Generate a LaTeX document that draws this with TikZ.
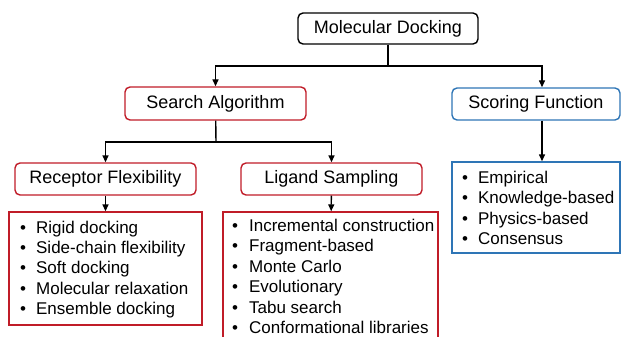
\documentclass[tikz,border=0pt]{standalone}
\usepackage{fontspec}
\setmainfont{Liberation Sans}
\usetikzlibrary{arrows.meta}
\definecolor{boxred}{RGB}{192,28,40}
\definecolor{boxblue}{RGB}{46,117,182}
\begin{document}
\begin{tikzpicture}[x=1pt,y=-1pt,
  head/.style={draw, line width=1.4pt, rounded corners=5pt, inner sep=0pt, font=\fontsize{18}{21}\selectfont},
  listbox/.style={draw, line width=1.4pt, inner sep=0pt},
  listtext/.style={anchor=base west, inner sep=0pt, font=\fontsize{17}{20.5}\selectfont},
  conn/.style={line width=1.4pt},
  arr/.style={line width=1.4pt, -{Triangle[length=7pt,width=6pt]}}]
\useasboundingbox (0,0) rectangle (622,337);
\clip (0,0) rectangle (622,337);
% headings
\node[head, minimum width=180pt, minimum height=31pt] (md) at (388,28.5) {Molecular Docking};
\node[head, draw=boxred, minimum width=181pt, minimum height=33pt] (sa) at (215.5,103.5) {Search Algorithm};
\node[head, draw=boxblue, minimum width=168pt, minimum height=32pt] (sf) at (536,104) {Scoring Function};
\node[head, draw=boxred, minimum width=181pt, minimum height=32pt] (rf) at (105.5,179) {Receptor Flexibility};
\node[head, draw=boxred, minimum width=181pt, minimum height=32pt] (ls) at (331.5,179) {Ligand Sampling};
% list boxes
\node[listbox, draw=boxred, minimum width=193pt, minimum height=113pt] (rfl) at (105.5,268.5) {};
\node[listbox, draw=boxred, minimum width=215pt, minimum height=140pt] (lsl) at (330.5,282) {};
\node[listbox, draw=boxblue, minimum width=168pt, minimum height=91pt] (sfl) at (536,207.5) {};
% list texts
\node[listtext] (rft) at (20,233) {\begin{tabular}[t]{@{}l@{\hspace{10pt}}l@{}}
\textbullet & Rigid docking\\
\textbullet & Side-chain flexibility\\
\textbullet & Soft docking\\
\textbullet & Molecular relaxation\\
\textbullet & Ensemble docking
\end{tabular}};
\node[listtext] (lst) at (232,231.5) {\begin{tabular}[t]{@{}l@{\hspace{11pt}}l@{}}
\textbullet & Incremental construction\\
\textbullet & Fragment-based\\
\textbullet & Monte Carlo\\
\textbullet & Evolutionary\\
\textbullet & Tabu search\\
\textbullet & Conformational libraries
\end{tabular}};
\node[listtext] (sft) at (462,183) {\begin{tabular}[t]{@{}l@{\hspace{10pt}}l@{}}
\textbullet & Empirical\\
\textbullet & Knowledge-based\\
\textbullet & Physics-based\\
\textbullet & Consensus
\end{tabular}};
% connectors
\coordinate (j1) at (388,66);
\coordinate (j2) at (216,142);
\coordinate (sfx) at (542,0);
\draw[conn] (md) -- (j1);
\draw[arr] (j1) -| (sa);
\draw[arr] (j1) -| (sfx |- sf.north);
\draw[conn] (sa) -- (j2);
\draw[arr] (j2) -| (rf);
\draw[arr] (j2) -| (ls);
\draw[arr] (rf) -- (rfl);
\draw[arr] (ls) -- (lsl);
\draw[arr] (sfx |- sf.south) -- (sfx |- sfl.north);
\end{tikzpicture}
\end{document}
